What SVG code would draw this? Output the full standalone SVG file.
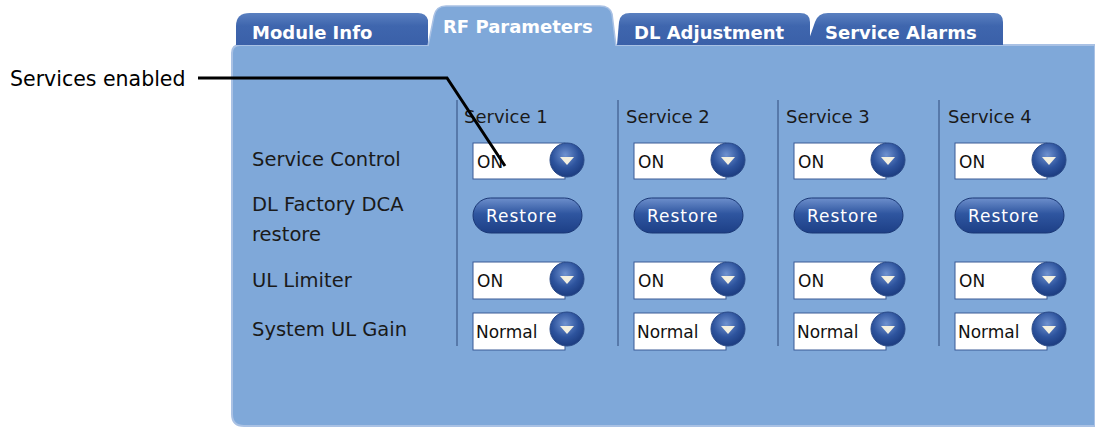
<svg xmlns="http://www.w3.org/2000/svg" width="1095" height="428" viewBox="0 0 1095 428">
<defs>
<linearGradient id="tabg" x1="0" y1="0" x2="0" y2="1"><stop offset="0" stop-color="#5a80c0"/><stop offset="0.4" stop-color="#3f66ae"/><stop offset="1" stop-color="#3a60a8"/></linearGradient>
<linearGradient id="btng" x1="0" y1="0" x2="0" y2="1"><stop offset="0" stop-color="#6d8fcc"/><stop offset="0.45" stop-color="#2f56a0"/><stop offset="1" stop-color="#1d3f86"/></linearGradient>
<radialGradient id="circg" cx="0.45" cy="0.35" r="0.65"><stop offset="0" stop-color="#6f92d0"/><stop offset="0.6" stop-color="#2d539d"/><stop offset="1" stop-color="#1c3c80"/></radialGradient>
<g id="dd"><circle cx="0" cy="0" r="17" fill="url(#circg)" stroke="#2a4a88" stroke-width="1"/><path d="M-7,-3 L7,-3 L0,5 Z" fill="#f4f0e0"/></g>
</defs>
<style>
.tab{font-family:"DejaVu Sans",Verdana,sans-serif;font-weight:bold;font-size:18px;fill:#ffffff}
.lbl{font-family:"DejaVu Sans",Verdana,sans-serif;font-size:19.5px;fill:#1a1a1a}
.hdr{font-family:"DejaVu Sans",Verdana,sans-serif;font-size:18px;fill:#1a1a1a}
.val{font-family:"DejaVu Sans",Verdana,sans-serif;font-size:17px;fill:#111111}
.btnt{font-family:"DejaVu Sans",Verdana,sans-serif;font-size:17px;letter-spacing:1px;fill:#ffffff}
.box{fill:#ffffff;stroke:#3a5a96;stroke-width:1}
.sep{stroke:#4a6a9a;stroke-width:1.5}
.callout{font-family:"DejaVu Sans",Verdana,sans-serif;font-size:20.5px;fill:#000000}
</style>
<rect width="1095" height="428" fill="#ffffff"/>
<g id="panel">
<path d="M240,45 L1095,45 L1095,426 L244,426 Q232,426 232,414 L232,53 Q232,45 240,45 Z" fill="#7fa8d9" stroke="#a9c1e4" stroke-width="2"/>
</g>
<g id="tab-module-info">
<path d="M236,45 L236,26 Q236,13 250,13 L418,13 Q426,13 428,20 L428,45 Z" fill="url(#tabg)"/>
<text class="tab" x="252" y="39">Module Info</text>
</g>
<g id="tab-dl-adjustment">
<path d="M617,45 L619,22 Q620,13 630,13 L800,13 Q810,13 810,22 L810,45 Z" fill="url(#tabg)"/>
<text class="tab" x="634" y="39">DL Adjustment</text>
</g>
<g id="tab-service-alarms">
<path d="M807,45 L815,22 Q818,13 828,13 L994,13 Q1003,13 1003,22 L1003,45 Z" fill="url(#tabg)"/>
<text class="tab" x="825" y="39">Service Alarms</text>
</g>
<g id="tab-rf-parameters">
<path d="M428,47 L434,16 Q436,6 446,6 L600,6 Q610,6 612,14 L616,47 Z" fill="#7fa8d9"/>
<path d="M428,46 L434,16 Q436,6 446,6 L600,6 Q610,6 612,14 L616,46" fill="none" stroke="#a9c1e4" stroke-width="1.5"/>
<text class="tab" x="443" y="33">RF Parameters</text>
</g>
<g id="row-labels">
<text class="lbl" x="252" y="166">Service Control</text>
<text class="lbl" x="252" y="211">DL Factory DCA</text>
<text class="lbl" x="252" y="241">restore</text>
<text class="lbl" x="252" y="287">UL Limiter</text>
<text class="lbl" x="252" y="336">System UL Gain</text>
</g>
<g id="service-1">
<line class="sep" x1="457" y1="100" x2="457" y2="346"/>
<text class="hdr" x="464" y="123">Service 1</text>
<rect class="box" x="473" y="143" width="92" height="36"/><text class="val" x="477" y="168">ON</text><use href="#dd" x="567" y="160"/>
<rect x="473" y="198" width="109" height="35" rx="17.5" fill="url(#btng)" stroke="#1a3775"/><text class="btnt" x="486" y="222">Restore</text>
<rect class="box" x="473" y="262" width="92" height="37"/><text class="val" x="477" y="287">ON</text><use href="#dd" x="567" y="279"/>
<rect class="box" x="473" y="313" width="92" height="37"/><text class="val" x="476" y="338">Normal</text><use href="#dd" x="567" y="329"/>
</g>
<g id="service-2">
<line class="sep" x1="618" y1="100" x2="618" y2="346"/>
<text class="hdr" x="626" y="123">Service 2</text>
<rect class="box" x="634" y="143" width="92" height="36"/><text class="val" x="638" y="168">ON</text><use href="#dd" x="728" y="160"/>
<rect x="634" y="198" width="109" height="35" rx="17.5" fill="url(#btng)" stroke="#1a3775"/><text class="btnt" x="647" y="222">Restore</text>
<rect class="box" x="634" y="262" width="92" height="37"/><text class="val" x="638" y="287">ON</text><use href="#dd" x="728" y="279"/>
<rect class="box" x="634" y="313" width="92" height="37"/><text class="val" x="637" y="338">Normal</text><use href="#dd" x="728" y="329"/>
</g>
<g id="service-3">
<line class="sep" x1="778" y1="100" x2="778" y2="346"/>
<text class="hdr" x="786" y="123">Service 3</text>
<rect class="box" x="794" y="143" width="92" height="36"/><text class="val" x="798" y="168">ON</text><use href="#dd" x="888" y="160"/>
<rect x="794" y="198" width="109" height="35" rx="17.5" fill="url(#btng)" stroke="#1a3775"/><text class="btnt" x="807" y="222">Restore</text>
<rect class="box" x="794" y="262" width="92" height="37"/><text class="val" x="798" y="287">ON</text><use href="#dd" x="888" y="279"/>
<rect class="box" x="794" y="313" width="92" height="37"/><text class="val" x="797" y="338">Normal</text><use href="#dd" x="888" y="329"/>
</g>
<g id="service-4">
<line class="sep" x1="939" y1="100" x2="939" y2="346"/>
<text class="hdr" x="948" y="123">Service 4</text>
<rect class="box" x="955" y="143" width="92" height="36"/><text class="val" x="959" y="168">ON</text><use href="#dd" x="1049" y="160"/>
<rect x="955" y="198" width="109" height="35" rx="17.5" fill="url(#btng)" stroke="#1a3775"/><text class="btnt" x="968" y="222">Restore</text>
<rect class="box" x="955" y="262" width="92" height="37"/><text class="val" x="959" y="287">ON</text><use href="#dd" x="1049" y="279"/>
<rect class="box" x="955" y="313" width="92" height="37"/><text class="val" x="958" y="338">Normal</text><use href="#dd" x="1049" y="329"/>
</g>
<g id="callout-label">
<text class="callout" x="10" y="86">Services enabled</text>
</g>
<g id="connectors">
<polyline points="198,78 447,78 505,166" fill="none" stroke="#000000" stroke-width="3"/>
</g>
</svg>
